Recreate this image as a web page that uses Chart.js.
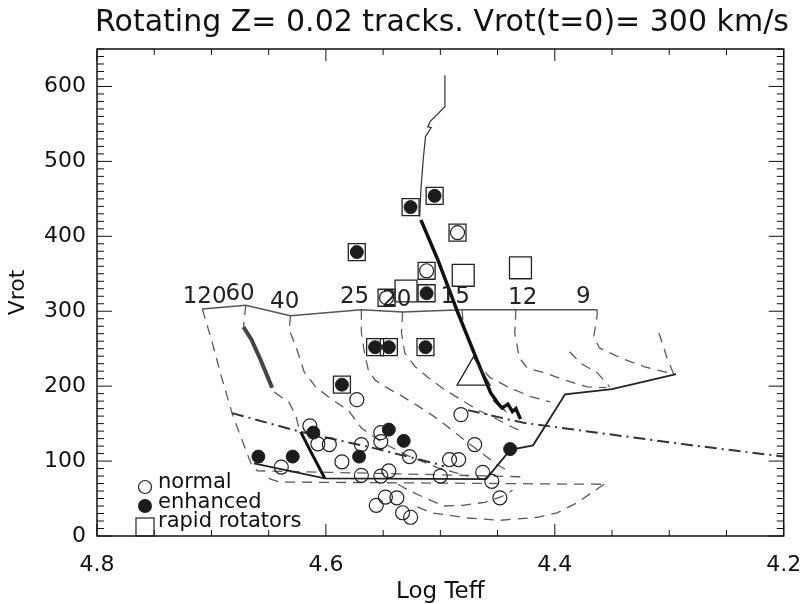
<!DOCTYPE html>
<html>
<head>
<meta charset="utf-8">
<script src="https://cdn.jsdelivr.net/npm/chart.js@4.4.0/dist/chart.umd.min.js"></script>
<style>
  html, body { margin: 0; padding: 0; background: #fff; }
  #wrap { width: 804px; height: 604px; }
</style>
</head>
<body>
<div id="wrap"><canvas id="myChart" width="804" height="604"></canvas></div>
<script>
// axis tick labels
const xTicks = [4.8, 4.6, 4.4, 4.2];
const yTicks = [0, 100, 200, 300, 400, 500, 600];

// stars (log Teff, Vrot)
const normalLogT = [4.573, 4.614, 4.607, 4.597, 4.639, 4.586, 4.569, 4.552, 4.552, 4.569, 4.552, 4.545, 4.527,
  4.500, 4.492, 4.484, 4.482, 4.470, 4.463, 4.455, 4.448, 4.556, 4.548, 4.538, 4.533, 4.526, 4.485, 4.512, 4.547];
const normalVrot = [182, 147, 123, 122, 92, 99, 122, 138, 126, 81, 80, 87, 106,
  80, 102, 102, 162, 122, 85, 73, 51, 41, 52, 51, 31, 25, 405, 354, 318];

const enhancedLogT = [4.659, 4.629, 4.611, 4.571, 4.545, 4.532, 4.439, 4.526, 4.505, 4.573, 4.512, 4.557, 4.545, 4.513, 4.586];
const enhancedVrot = [106, 106, 138, 106, 142, 127, 116, 439, 454, 379, 324, 252, 252, 252, 202];

// rapid rotators boxed round a classified star
const rapidLogT = [4.526, 4.505, 4.573, 4.512, 4.557, 4.545, 4.513, 4.586, 4.485, 4.512, 4.547];
const rapidVrot = [439, 454, 379, 324, 252, 252, 252, 202, 405, 354, 318];
// rapid rotators without class
const rapidOnlyLogT = [4.480, 4.430, 4.530];
const rapidOnlyVrot = [348, 358, 327];

const triangleLogT = [4.471];
const triangleVrot = [214];

// initial masses on the ZAMS line
const massLabels = ["120", "60", "40", "25", "20", "15", "12", "9"];
const massLabelLogT = [4.706, 4.675, 4.636, 4.575, 4.538, 4.487, 4.428, 4.375];
const massLabelVrot = [319, 323, 312, 319, 315, 319, 318, 319];

// tracks as [logTeff, Vrot]
const zams = [[4.708, 303], [4.670, 308], [4.631, 294], [4.569, 302], [4.533, 299], [4.481, 302], [4.434, 302], [4.363, 302]];

const track120 = [[4.708, 303], [4.700, 262], [4.691, 211], [4.682, 164], [4.676, 139], [4.670, 115], [4.665, 95],
  [4.660, 87], [4.598, 85], [4.537, 83], [4.427, 79]];
const track60a = [[4.670, 308], [4.672, 279]];
const track60dense = [[4.672, 279], [4.665, 262], [4.657, 235], [4.647, 198]];
const track60b = [[4.645, 192], [4.632, 178], [4.626, 159], [4.623, 140]];
const track40 = [[4.631, 294], [4.632, 275], [4.626, 252], [4.619, 219], [4.609, 199], [4.598, 186], [4.580, 167],
  [4.569, 144], [4.550, 124], [4.528, 107], [4.502, 91], [4.476, 80]];
const track25 = [[4.569, 302], [4.569, 271], [4.566, 242], [4.563, 222], [4.557, 208], [4.548, 199], [4.534, 187],
  [4.520, 174], [4.505, 159], [4.492, 144], [4.479, 128], [4.465, 112], [4.450, 95], [4.439, 85]];
const track20 = [[4.533, 299], [4.534, 271], [4.531, 244], [4.522, 226], [4.511, 212], [4.496, 195], [4.482, 182],
  [4.467, 168], [4.453, 158], [4.441, 148], [4.428, 139]];
const track15 = [[4.481, 302], [4.480, 282], [4.474, 255], [4.466, 228], [4.457, 212], [4.441, 199], [4.421, 186], [4.404, 179]];
const track12 = [[4.434, 302], [4.435, 271], [4.431, 238], [4.424, 224], [4.409, 218], [4.391, 208], [4.372, 199], [4.355, 198]];
const track12b = [[4.387, 246], [4.378, 231], [4.363, 218], [4.352, 199]];
const track9 = [[4.363, 302], [4.363, 294], [4.366, 266], [4.361, 251], [4.343, 238], [4.322, 226], [4.296, 216],
  [4.302, 238], [4.309, 271]];
const lowTrackA = [[4.537, 69], [4.528, 61], [4.515, 52], [4.497, 40], [4.480, 41], [4.461, 45], [4.446, 53], [4.437, 61]];
const lowTrackB = [[4.520, 39], [4.508, 31], [4.476, 24], [4.447, 21], [4.415, 25], [4.398, 31], [4.381, 44], [4.357, 69]];
const lowTrackC = [[4.650, 77], [4.641, 72], [4.537, 71], [4.356, 69]];

// heavy track: thin upper part, dense lower part
const bigTrackThin = [[4.496, 615], [4.496, 573], [4.509, 553], [4.511, 546], [4.508, 545], [4.513, 533],
  [4.515, 502], [4.517, 462], [4.518, 426]];
const bigTrackDense = [[4.517, 422], [4.502, 368], [4.485, 299], [4.467, 231], [4.456, 191], [4.450, 178],
  [4.453, 182], [4.446, 171], [4.441, 176], [4.437, 166], [4.434, 170], [4.430, 156]];
const denseSegment = [[4.622, 139], [4.613, 112], [4.601, 77]];

const solidLine = [[4.294, 216], [4.350, 196], [4.391, 189], [4.419, 121], [4.439, 115], [4.460, 76], [4.601, 77], [4.663, 97]];
const dashDotA = [[4.682, 164], [4.622, 139], [4.560, 118], [4.505, 97], [4.497, 93]];
const dashDotB = [[4.476, 168], [4.427, 151], [4.285, 122], [4.200, 106]];

const FONT = '"DejaVu Sans", sans-serif';

const toXY = (arr) => arr.map((p) => ({ x: p[0], y: p[1] }));
const zip = (xs, ys) => xs.map((v, i) => ({ x: v, y: ys[i] }));

function track(data, color, width, dash) {
  return {
    type: "line",
    data: toXY(data),
    borderColor: color,
    borderWidth: width,
    borderDash: dash || [],
    pointRadius: 0,
    fill: false,
    tension: 0,
  };
}

function stars(xs, ys, style, radius, fillColor, width) {
  return {
    type: "scatter",
    data: zip(xs, ys),
    pointStyle: style,
    pointRadius: radius,
    backgroundColor: fillColor,
    borderColor: "#222",
    borderWidth: width,
  };
}

const dashed = [10, 7];
const gray = "#5a5a5a";

// title, mass labels, frame with inward ticks, legend
const decorations = {
  id: "decorations",
  afterDatasetsDraw(chart) {
    const { ctx, scales: { x, y } } = chart;
    ctx.save();
    ctx.fillStyle = "#222";
    ctx.font = "23px " + FONT;
    ctx.textAlign = "center";
    ctx.textBaseline = "middle";
    massLabels.forEach((t, i) => {
      ctx.fillText(t, x.getPixelForValue(massLabelLogT[i]), y.getPixelForValue(massLabelVrot[i]));
    });
    ctx.restore();
  },
  afterDraw(chart) {
    const { ctx, chartArea: a, scales: { x, y } } = chart;
    ctx.save();
    ctx.strokeStyle = "#111";
    ctx.lineWidth = 1.5;
    ctx.strokeRect(a.left, a.top, a.right - a.left, a.bottom - a.top);

    ctx.lineWidth = 1;
    ctx.beginPath();
    for (let i = 0; i <= 12; i++) {
      const px = x.getPixelForValue(4.2 + i * 0.05);
      const len = i % 4 === 0 ? 12 : 6;
      ctx.moveTo(px, a.bottom); ctx.lineTo(px, a.bottom - len);
      ctx.moveTo(px, a.top); ctx.lineTo(px, a.top + len);
    }
    for (let v = 0; v <= 650; v += 10) {
      const py = y.getPixelForValue(v);
      const len = v % 100 === 0 ? 15 : 7;
      ctx.moveTo(a.left, py); ctx.lineTo(a.left + len, py);
      ctx.moveTo(a.right, py); ctx.lineTo(a.right - len, py);
    }
    ctx.stroke();

    // title
    ctx.fillStyle = "#111";
    ctx.font = "30px " + FONT;
    ctx.textAlign = "center";
    ctx.textBaseline = "alphabetic";
    ctx.fillText("Rotating Z= 0.02 tracks. Vrot(t=0)= 300 km/s", 442, 31);

    // legend
    const lx = a.left + 48;
    ctx.strokeStyle = "#222";
    ctx.lineWidth = 1.2;
    ctx.beginPath();
    ctx.arc(lx, 487, 6.5, 0, Math.PI * 2);
    ctx.stroke();
    ctx.beginPath();
    ctx.arc(lx, 506, 7, 0, Math.PI * 2);
    ctx.fillStyle = "#1c1c1c";
    ctx.fill();
    ctx.strokeRect(lx - 9, 518, 18, 18);
    ctx.fillStyle = "#111";
    ctx.font = "21px " + FONT;
    ctx.textAlign = "left";
    ctx.fillText("normal", lx + 13, 488);
    ctx.fillText("enhanced", lx + 13, 508);
    ctx.fillText("rapid rotators", lx + 13, 527);
    ctx.restore();
  },
};

const ctx = document.getElementById("myChart").getContext("2d");
const myChart = new Chart(ctx, {
  data: {
    datasets: [
      stars(enhancedLogT, enhancedVrot, "circle", 6.5, "#1c1c1c", 1),
      stars(normalLogT, normalVrot, "circle", 7, "rgba(0,0,0,0)", 1.2),
      stars(rapidLogT, rapidVrot, "rect", 12, "rgba(0,0,0,0)", 1.3),
      stars(rapidOnlyLogT, rapidOnlyVrot, "rect", 15.5, "rgba(0,0,0,0)", 1.3),
      stars(triangleLogT, triangleVrot, "triangle", 19, "rgba(0,0,0,0)", 1.3),
      track(bigTrackDense, "#111", 3.5),
      track(bigTrackThin, "#333", 1.2),
      track(denseSegment, "#111", 3),
      track(solidLine, "#222", 1.8),
      track(dashDotA, "#333", 2, [12, 5, 2, 5]),
      track(dashDotB, "#333", 2, [12, 5, 2, 5]),
      track(zams, "#555", 1.5),
      track(track60dense, "#444", 4),
      track(track120, gray, 1.3, dashed),
      track(track60a, gray, 1.3, dashed),
      track(track60b, gray, 1.3, dashed),
      track(track40, gray, 1.3, dashed),
      track(track25, gray, 1.3, dashed),
      track(track20, gray, 1.3, dashed),
      track(track15, gray, 1.3, dashed),
      track(track12, gray, 1.3, dashed),
      track(track12b, gray, 1.3, dashed),
      track(track9, gray, 1.3, dashed),
      track(lowTrackA, gray, 1.3, dashed),
      track(lowTrackB, gray, 1.3, dashed),
      track(lowTrackC, gray, 1.3, dashed),
    ],
  },
  options: {
    responsive: false,
    animation: false,
    events: [],
    layout: { padding: { top: 49, right: 16, left: 0, bottom: 0 } },
    plugins: { legend: { display: false }, tooltip: { enabled: false } },
    scales: {
      x: {
        type: "linear",
        reverse: true,
        min: 4.2,
        max: 4.8,
        afterBuildTicks: (s) => { s.ticks = xTicks.map((v) => ({ value: v })); },
        afterFit: (s) => { s.height = 68; s.paddingLeft = 0; s.paddingRight = 0; },
        grid: { display: false, drawTicks: false },
        border: { display: false },
        ticks: {
          padding: 16,
          color: "#111",
          font: { family: FONT, size: 22 },
          callback: (v) => Number(v).toFixed(1),
        },
        title: {
          display: true,
          text: "Log Teff",
          color: "#111",
          font: { family: FONT, size: 23, lineHeight: 1 },
          padding: { top: 0, bottom: 0 },
        },
      },
      y: {
        type: "linear",
        min: 0,
        max: 650,
        afterBuildTicks: (s) => { s.ticks = yTicks.map((v) => ({ value: v })); },
        afterFit: (s) => { s.width = 97; s.paddingTop = 0; s.paddingBottom = 0; },
        grid: { display: false, drawTicks: false },
        border: { display: false },
        ticks: {
          padding: 11,
          color: "#111",
          font: { family: FONT, size: 22 },
        },
        title: {
          display: true,
          text: "Vrot",
          color: "#111",
          font: { family: FONT, size: 22, lineHeight: 1 },
          padding: { top: 7, bottom: 0 },
        },
      },
    },
  },
  plugins: [decorations],
});
</script>
</body>
</html>
